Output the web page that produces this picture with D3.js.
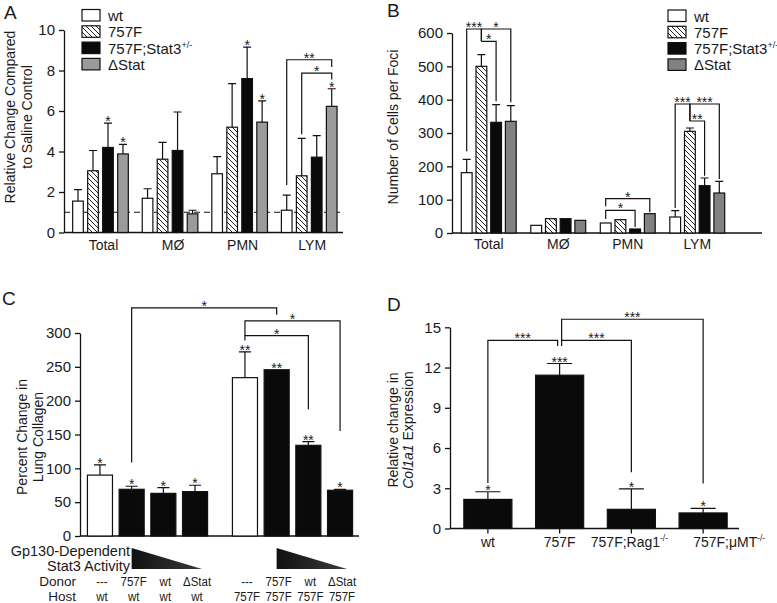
<!DOCTYPE html>
<html><head><meta charset="utf-8">
<script src="https://cdn.jsdelivr.net/npm/d3@7"></script>
<style>
body{margin:0;background:#fff}
svg{display:block}
text{font-family:"Liberation Sans",Arial,Helvetica,sans-serif;fill:#1a1a1a}
</style>
</head><body>
<svg id="c" width="777" height="603"></svg>
<script>
// ================= DATA =================
const seriesAB = ["wt","757F","757F;Stat3+/-","ΔStat"];
const cellGroups = ["Total","MØ","PMN","LYM"];

// Panel A: relative change compared to saline control
const aTicks = [0,2,4,6,8,10];
const aWt      = [1.55,1.69,2.90,1.10];
const aWtErr   = [0.57,0.47,0.85,0.75];
const a757F    = [3.05,3.62,5.20,2.80];
const a757FErr = [1.00,0.83,2.15,1.85];
const aStat3   = [4.20,4.05,7.60,3.72];
const aStat3Err= [1.20,1.90,1.55,1.06];
const aDStat   = [3.88,0.92,5.45,6.23];
const aDStatErr= [0.47,0.18,1.05,0.87];
const aWtSig    = ["","","",""];
const a757FSig  = ["","","",""];
const aStat3Sig = ["*","","*",""];
const aDStatSig = ["*","","*","*"];
const aBrackets = [
  {g:3, from:0, to:3, y:8.53, e1:2.35, e2:8.17, label:"**"},
  {g:3, from:1, to:3, y:7.87, e1:4.85, e2:7.55, label:"*"}
];

// Panel B: number of cells per foci
const bTicks = [0,100,200,300,400,500,600];
const bWt      = [181,23,30,48];
const bWtErr   = [40,0,0,19];
const b757F    = [500,43,40,305];
const b757FErr = [35,0,0,10];
const bStat3   = [332,43,12,142];
const bStat3Err= [53,0,0,23];
const bDStat   = [335,38,58,120];
const bDStatErr= [47,0,0,35];
const bBrackets = [
  {g:0, from:0, to:1, y:612, e1:245, e2:575, label:"***"},
  {g:0, from:1, to:3, y:612, e1:575, e2:392, label:"*"},
  {g:0, from:1, to:2, y:575, e1:575, e2:395, label:"*"},
  {g:2, from:0, to:3, y:103, e1:80,  e2:62,  label:"*"},
  {g:2, from:0, to:2, y:68,  e1:42,  e2:18,  label:"*"},
  {g:3, from:0, to:1, y:387, e1:75,  e2:336, label:"***"},
  {g:3, from:1, to:3, y:387, e1:336, e2:162, label:"***"},
  {g:3, from:1, to:2, y:336, e1:336, e2:172, label:"**"}
];

// Panel C: percent change in lung collagen
const cTicks = [0,50,100,150,200,250,300];
const cHosts = ["wt","757F"];
const cDonors = ["---","757F","wt","ΔStat"];
const cHostWt      = [90,69,63,65.6];
const cHostWtErr   = [15,4.5,8.5,9.4];
const cHostWtSig   = ["*","*","*","*"];
const cHost757F    = [234,245.7,134,67.6];
const cHost757FErr = [38,0,5.6,1.4];
const cHost757FSig = ["**","**","**","*"];
const cBrackets = [
  {h1:0, d1:1, h2:1, d2:1, y:337, e1:108.5, e2:327, label:"*"},
  {h1:1, d1:0, h2:1, d2:3, y:318, e1:296,   e2:155, label:"*"},
  {h1:1, d1:0, h2:1, d2:2, y:296, e1:289,   e2:187.5, label:"*"}
];

// Panel D: relative change in Col1a1 expression
const dTicks = [0,3,6,9,12,15];
const dCats = ["wt","757F","757F;Rag1-/-","757F;μMT-/-"];
const dVals = [2.17,11.43,1.43,1.16];
const dErrs = [0.57,0.87,1.53,0.34];
const dSig  = ["*","***","*","*"];
const dBrackets = [
  {from:0, to:1, y:14.03, e1:3.4,   e2:13.6, label:"***", s1:0,  s2:-2},
  {from:1, to:2, y:14.03, e1:13.6,  e2:4.2,  label:"***", s1:2,  s2:0},
  {from:1, to:3, y:15.6,  e1:14.03, e2:3.35, label:"***", s1:2,  s2:0}
];

// ================= DRAWING =================
const INK = "#111";
const svg = d3.select("#c");
svg.append("rect").attr("width",777).attr("height",603).attr("fill","#fff");

const defs = svg.append("defs");
const pat = defs.append("pattern").attr("id","hatch").attr("patternUnits","userSpaceOnUse")
  .attr("width",5).attr("height",5);
pat.append("rect").attr("width",5).attr("height",5).attr("fill","#fff");
pat.append("path").attr("d","M-1,-1L6,6M-1,4L1,6M4,-1L6,1").attr("stroke","#222").attr("stroke-width",1);

function yAxis(x, y, ticks) {
  const ax = svg.append("g").attr("transform",`translate(${x},0)`)
    .call(d3.axisLeft(y).tickValues(ticks).tickSizeInner(5).tickSizeOuter(0).tickPadding(4));
  ax.attr("font-size",15).attr("font-family",null);
  ax.select(".domain").attr("stroke",INK).attr("stroke-width",1.3);
  ax.selectAll(".tick line").attr("stroke",INK).attr("stroke-width",1.3);
  ax.selectAll(".tick text").attr("fill","#1a1a1a");
  return ax;
}
function xLine(x1, x2, yv) {
  svg.append("line").attr("x1",x1).attr("x2",x2).attr("y1",yv).attr("y2",yv)
    .attr("stroke",INK).attr("stroke-width",1.3);
}
function bar(x, w, y0, y1, fill) {
  svg.append("rect").attr("x",x).attr("y",Math.min(y0,y1)).attr("width",w)
    .attr("height",Math.abs(y0-y1)).attr("fill",fill).attr("stroke",INK).attr("stroke-width",1.2);
}
function errBar(cx, yTop, yCap, capW) {
  svg.append("path").attr("d",`M${cx},${yTop}V${yCap}M${cx-capW/2},${yCap}H${cx+capW/2}`)
    .attr("stroke",INK).attr("stroke-width",1.2).attr("fill","none");
}
function star(cx, yv, label, fs) {
  if (!label) return;
  svg.append("text").attr("x",cx).attr("y",yv+3).attr("text-anchor","middle")
    .attr("font-size",fs||14).text(label);
}
function bracket(x1, x2, yLine, y1, y2, label) {
  svg.append("path").attr("d",`M${x1},${y1}V${yLine}H${x2}V${y2}`)
    .attr("stroke",INK).attr("stroke-width",1.2).attr("fill","none");
  star((x1+x2)/2, yLine, label);
}
function label(x, y, txt, opts) {
  const t = svg.append("text").attr("x",x).attr("y",y).attr("font-size",(opts&&opts.fs)||14)
    .attr("text-anchor",(opts&&opts.anchor)||"middle").text(txt);
  return t;
}
function narrowLabel(x, y, txt, fs, sx) {
  svg.append("text").attr("transform",`translate(${x},${y}) scale(${sx},1)`)
    .attr("font-size",fs).attr("text-anchor","middle").text(txt);
}
function supLabel(x, y, main, sup, anchor, fs) {
  const t = svg.append("text").attr("x",x).attr("y",y).attr("font-size",fs).attr("text-anchor",anchor||"start");
  t.append("tspan").text(main);
  t.append("tspan").attr("font-size",fs*0.6).attr("dy",-fs*0.4).text(sup);
  return t;
}
function rotLabel(x, y, lines, fs) {
  lines.forEach((ln, i) => {
    const t = svg.append("text").attr("transform",`translate(${ln.x},${y}) rotate(-90)`)
      .attr("text-anchor","middle").attr("font-size",fs);
    if (typeof ln.t === "string") t.text(ln.t);
    else ln.t.forEach(p => t.append("tspan").attr("font-style",p.i?"italic":null).text(p.s));
  });
}
function panelLetter(x, y, s) {
  svg.append("text").attr("x",x).attr("y",y).attr("font-size",19).text(s);
}
function legend(x, y0, fills) {
  seriesAB.forEach((s, i) => {
    const yy = y0 + i*16.3;
    svg.append("rect").attr("x",x).attr("y",yy).attr("width",18).attr("height",11.5)
      .attr("fill",fills[i]).attr("stroke",INK).attr("stroke-width",1.2);
    if (s.indexOf("+/-") >= 0) supLabel(x+26, yy+11.5, s.replace("+/-",""), "+/-", "start", 15);
    else label(x+26, yy+11.5, s, {fs:15, anchor:"start"});
  });
}

function groupedPanel(cfg) {
  const y = d3.scaleLinear().domain(cfg.yDomain).range(cfg.yRange);
  const x0 = d3.scaleBand().domain(cellGroups).range(cfg.x0Range).padding(0);
  const x1 = d3.scaleBand().domain(d3.range(seriesAB.length))
    .range([x0.bandwidth()/2 - cfg.half, x0.bandwidth()/2 + cfg.half])
    .paddingInner(cfg.padIn).paddingOuter(cfg.padIn/2);
  const cx = (g, s) => x0(cellGroups[g]) + x1(s) + x1.bandwidth()/2;
  xLine(cfg.axisX, cfg.axisEnd, y(0));
  if (cfg.dashed != null) {
    svg.append("line").attr("x1",cfg.axisX).attr("x2",cfg.axisEnd)
      .attr("y1",y(cfg.dashed)).attr("y2",y(cfg.dashed))
      .attr("stroke",INK).attr("stroke-width",1.2).attr("stroke-dasharray","6,4");
  }
  cfg.vals.forEach((arr, s) => {
    arr.forEach((v, g) => {
      bar(x0(cellGroups[g]) + x1(s), x1.bandwidth(), y(0), y(v), cfg.fills[s]);
      const e = cfg.errs[s][g];
      if (e > 0) errBar(cx(g,s), y(v), y(v+e), cfg.capW);
      if (cfg.sigs) star(cx(g,s), y(v+e), cfg.sigs[s][g]);
    });
  });
  yAxis(cfg.axisX, y, cfg.ticks);
  cellGroups.forEach((c, g) => label(x0(c) + x0.bandwidth()/2 + (cfg.labDx||0), cfg.labY, c));
  cfg.brackets.forEach(b => bracket(cx(b.g,b.from), cx(b.g,b.to), y(b.y), y(b.e1), y(b.e2), b.label));
  return y;
}

// ---------- Panel A ----------
panelLetter(4, 19, "A");
groupedPanel({
  yDomain:[0,10], yRange:[232.5,30], ticks:aTicks,
  x0Range:[65.7,344], half:30, padIn:0.29, axisX:64, axisEnd:343, capW:8,
  vals:[aWt,a757F,aStat3,aDStat], errs:[aWtErr,a757FErr,aStat3Err,aDStatErr],
  sigs:[aWtSig,a757FSig,aStat3Sig,aDStatSig],
  fills:["#fff","url(#hatch)","#0a0a0a","#9b9b9b"],
  brackets:aBrackets, dashed:1, labY:250, labDx:3
});
legend(82, 9.5, ["#fff","url(#hatch)","#0a0a0a","#9b9b9b"]);
rotLabel(0, 117, [{x:15, t:"Relative Change Compared"},{x:32, t:"to Saline Control"}], 14);

// ---------- Panel B ----------
panelLetter(387, 17, "B");
groupedPanel({
  yDomain:[0,600], yRange:[233,33], ticks:bTicks,
  x0Range:[454,732], half:29.4, padIn:0.265, axisX:452, axisEnd:762, capW:8,
  vals:[bWt,b757F,bStat3,bDStat], errs:[bWtErr,b757FErr,bStat3Err,bDStatErr],
  sigs:null,
  fills:["#fff","url(#hatch)","#0a0a0a","#828282"],
  brackets:bBrackets, dashed:null, labY:249, labDx:0
});
legend(668, 10, ["#fff","url(#hatch)","#0a0a0a","#828282"]);
rotLabel(0, 127, [{x:398, t:"Number of Cells per Foci"}], 14);

// ---------- Panel C ----------
panelLetter(2, 305, "C");
(function(){
  const y = d3.scaleLinear().domain([0,300]).range([536,333]);
  const x0 = d3.scaleBand().domain(cHosts).range([75,365]).padding(0);
  const x1 = d3.scaleBand().domain(d3.range(cDonors.length))
    .range([x0.bandwidth()/2 - 63.4, x0.bandwidth()/2 + 63.4]).paddingInner(0.21).paddingOuter(0.105);
  const cx = (h, d) => x0(cHosts[h]) + x1(d) + x1.bandwidth()/2;
  xLine(80, 359, y(0));
  const vals = [cHostWt, cHost757F], errs = [cHostWtErr, cHost757FErr], sigs = [cHostWtSig, cHost757FSig];
  vals.forEach((arr, h) => arr.forEach((v, d) => {
    bar(x0(cHosts[h]) + x1(d), x1.bandwidth(), y(0), y(v), d === 0 ? "#fff" : "#0a0a0a");
    const e = errs[h][d];
    if (e > 0) errBar(cx(h,d), y(v), y(v+e), 12);
    star(cx(h,d), y(v+e), sigs[h][d]);
  }));
  yAxis(80, y, cTicks);
  cBrackets.forEach(b => bracket(cx(b.h1,b.d1), cx(b.h2,b.d2), y(b.y), y(b.e1), y(b.e2), b.label));
  // decreasing-activity wedges
  const grad = defs.append("linearGradient").attr("id","wedge");
  grad.append("stop").attr("offset","0").attr("stop-color","#111");
  grad.append("stop").attr("offset","1").attr("stop-color","#3a3a3a");
  cHosts.forEach((h, hi) => {
    const xa = cx(hi,1), xb = cx(hi,3) + 7;
    svg.append("path").attr("d",`M${xa},548L${xa},569L${xb},569Z`).attr("fill","url(#wedge)");
  });
  label(130, 556, "Gp130-Dependent", {anchor:"end", fs:14.5});
  label(130, 570.5, "Stat3 Activity", {anchor:"end", fs:14.5});
  label(76, 585.5, "Donor", {anchor:"end", fs:13.5});
  label(76, 600.5, "Host", {anchor:"end", fs:13.5});
  cHosts.forEach((h, hi) => cDonors.forEach((d, di) => {
    narrowLabel(cx(hi,di)+2, 585.5, d, 13.5, 0.85);
    narrowLabel(cx(hi,di)+2, 600.5, h, 13.5, 0.85);
  }));
})();
rotLabel(0, 437, [{x:27, t:"Percent Change in"},{x:43, t:"Lung Collagen"}], 14);

// ---------- Panel D ----------
panelLetter(387, 311, "D");
(function(){
  const y = d3.scaleLinear().domain([0,15]).range([528.5,327.3]);
  const x = d3.scaleBand().domain(dCats).range([452,739]).paddingInner(0.33).paddingOuter(0.165);
  const cx = i => x(dCats[i]) + x.bandwidth()/2;
  dVals.forEach((v, i) => {
    bar(x(dCats[i]), x.bandwidth(), y(0), y(v), "#0a0a0a");
    errBar(cx(i), y(v), y(v+dErrs[i]), 25);
    star(cx(i), y(v+dErrs[i]), dSig[i]);
  });
  xLine(450, 739, y(0));
  dCats.forEach((c, i) => {
    svg.append("line").attr("x1",cx(i)).attr("x2",cx(i)).attr("y1",y(0)).attr("y2",y(0)+5)
      .attr("stroke",INK).attr("stroke-width",1.3);
  });
  yAxis(450, y, dTicks);
  dBrackets.forEach(b => bracket(cx(b.from)+b.s1, cx(b.to)+b.s2, y(b.y), y(b.e1), y(b.e2), b.label));
  const labY = 547;
  dCats.forEach((c, i) => {
    if (c.indexOf("-/-") >= 0) {
      const dx = i === 3 ? 26 : -2;
      supLabel(cx(i)+dx, labY, c.replace("-/-",""), "-/-", "middle", 14);
    } else label(cx(i), labY, c);
  });
})();
rotLabel(0, 430, [{x:398, t:"Relative change in"},{x:413, t:[{s:"Col1a1",i:true},{s:" Expression"}]}], 14);
</script>
</body></html>
